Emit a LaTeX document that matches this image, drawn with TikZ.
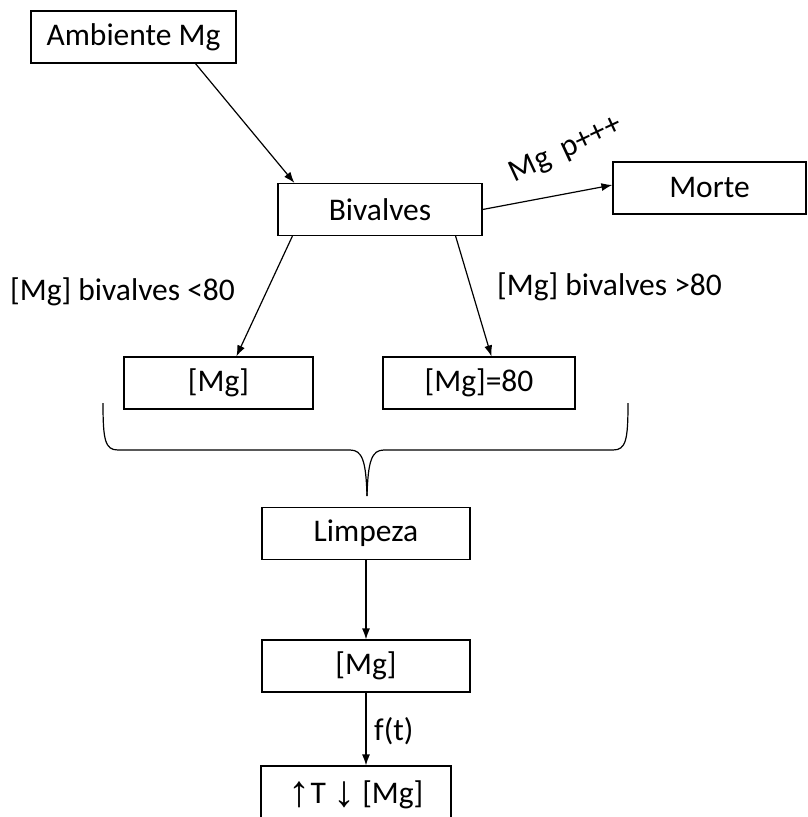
\documentclass[tikz,border=0pt]{standalone}
\usepackage{fontspec}
\setmainfont{Carlito}
\newfontfamily\arrowfont{Liberation Sans}
\usetikzlibrary{arrows.meta}
\newcommand{\bigarrow}[1]{{\arrowfont\fontsize{44}{48}\selectfont#1}}
\begin{document}
\begin{tikzpicture}[x=1pt,y=-1pt,
  box/.style={draw, line width=1.2pt, inner sep=0pt, minimum height=52pt,
    font=\fontsize{31.5}{36}\selectfont},
  lbl/.style={font=\fontsize{31.5}{36}\selectfont, inner sep=0pt},
  conn/.style={line width=1.2pt, -{Latex[length=11pt,width=8pt]}},
  bracepath/.style={line width=1.2pt}]
\useasboundingbox (0,0) rectangle (808,817);
\fill[white] (0,0) rectangle (808,817);

% boxes
\node[box, minimum width=205pt] (amb) at (133.5,37) {Ambiente Mg};
\node[box, minimum width=204pt] (biv) at (380,209.5) {Bivalves};
\node[box, minimum width=193pt] (morte) at (709.5,188) {Morte};
\node[box, minimum width=189pt] (mga) at (218.5,383) {[Mg]};
\node[box, minimum width=192pt] (mgb) at (479,383) {[Mg]=80};
\node[box, minimum width=208pt] (limp) at (366,533.5) {Limpeza};
\node[box, minimum width=208pt] (mgc) at (366,666) {[Mg]};
\node[box, minimum width=190pt, text depth=0pt] (fin) at (356,792)
  {\raisebox{-3pt}{\bigarrow{↑}}T \raisebox{-3pt}{\bigarrow{↓}} [Mg]};

% connector end points on the box borders
\path (amb.south) ++(62,0) coordinate (a1);
\path (biv.north west) ++(17,0) coordinate (b1);
\path (biv.south west) ++(15,0) coordinate (b2);
\path (biv.south east) ++(-27,0) coordinate (b3);
\path (mga.north west) ++(113,0) coordinate (m1);
\path (mgb.north west) ++(109,0) coordinate (m2);
\path (morte.west) ++(0,-3) coordinate (m3);

% connectors
\draw[conn] (a1) -- (b1);
\draw[conn] (biv.east) -- (m3);
\draw[conn] (b2) -- (m1);
\draw[conn] (b3) -- (m2);
\draw[conn] (limp.south) -- (mgc.north);
\draw[conn] (mgc.south) -- (fin.north -| mgc.south);

% labels
\node[lbl, rotate=25] (lp) at (566,150) {Mg~~p+++};
\node[lbl, anchor=west] (l1) at (10,292) {[Mg] bivalves <80};
\node[lbl, anchor=west] (l2) at (497,287) {[Mg] bivalves >80};
\node[lbl, anchor=west] (l3) at (374,731) {f(t)};

% brace under the two result boxes
\coordinate (bl) at (103,403);
\coordinate (br) at (628,403);
\coordinate (tip) at (367,496);
\draw[bracepath] (bl) .. controls (103,440) and (105,450) .. (118,450)
  -- (350,450) .. controls (362,450) and (366,460) .. (tip);
\draw[bracepath] (br) .. controls (628,440) and (626,450) .. (613,450)
  -- (384,450) .. controls (372,450) and (368,460) .. (tip);
\end{tikzpicture}
\end{document}
